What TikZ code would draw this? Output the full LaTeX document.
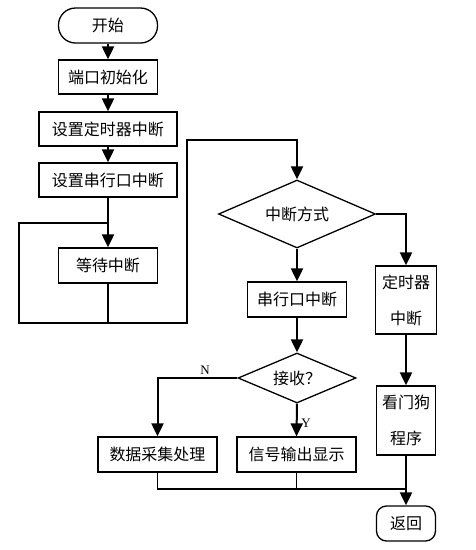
\documentclass[tikz,border=0pt]{standalone}
\usepackage{fontspec}
\setmainfont{Noto Sans CJK SC}
\newfontfamily\latinserif{Liberation Serif}
\usetikzlibrary{arrows.meta,shapes.geometric}
\begin{document}
\begin{tikzpicture}[x=1pt,y=-1pt,
  every node/.style={font=\fontsize{16}{18}\selectfont, inner sep=0pt},
  box/.style={draw, line width=1.3pt, minimum height=35pt},
  term/.style={box, rounded corners=17pt},
  rterm/.style={box, rounded corners=10pt},
  dia/.style={draw, line width=1.3pt, diamond, aspect=2.3},
  two/.style={box, align=center, font=\fontsize{16}{36}\selectfont},
  conn/.style={line width=2pt},
  arr/.style={conn, -{Triangle[width=12pt,length=13pt]}},
  lbl/.style={font=\latinserif\fontsize{13}{15}\selectfont}
]
\useasboundingbox (0,0) rectangle (475,550);

\node[term, minimum width=99pt] (start) at (108,25.5) {开始};
\node[box, minimum width=99pt, minimum height=34pt] (init) at (108,77) {端口初始化};
\node[box, minimum width=138pt, minimum height=34pt] (timer) at (108,129) {设置定时器中断};
\node[box, minimum width=138pt, minimum height=34pt] (serial) at (108,180) {设置串行口中断};
\node[box, minimum width=99pt] (wait) at (108,265.5) {等待中断};

\node[dia, minimum width=157pt, minimum height=68pt] (mode) at (297,214) {中断方式};
\node[box, minimum width=99pt] (serint) at (297,299.5) {串行口中断};
\node[two, minimum width=61pt, minimum height=68pt] (timint) at (406,300) {定时器\\中断};
\node[dia, minimum width=118pt, minimum height=50pt] (recv) at (297,378) {接收？};
\node[box, minimum width=119pt] (data) at (157.5,454.5) {数据采集处理};
\node[box, minimum width=119pt] (signal) at (296.5,454.5) {信号输出显示};
\node[two, minimum width=59pt, minimum height=69pt] (dog) at (406,420.5) {看门狗\\程序};
\node[rterm, minimum width=59pt] (ret) at (406,523.5) {\raisebox{-4pt}{返回}};

\coordinate (j1) at (108,223);
\coordinate (j2) at (108,323);
\coordinate (lpA) at (19,323);
\coordinate (ur) at (187,140);
\coordinate (mg) at (406,489);

\draw[arr] (start) -- (init);
\draw[arr] (init) -- (timer);
\draw[arr] (timer) -- (serial);
\draw[arr] (serial) -- (wait);
\draw[conn] (wait.south) -- (j2) -- (lpA) |- (j1);
\draw[arr] (j2) -| (ur) -| (mode.north);
\draw[arr] (mode.south) -- (serint.north);
\draw[arr] (mode.east) -| (timint.north);
\draw[arr] (serint.south) -- (recv.north);
\draw[arr] (recv.west) -| (data.north);
\draw[arr] (recv.south) -- (signal.north);
\draw[arr] (timint.south) -- (dog.north);
\draw[arr] (dog.south) -- (ret.north);
\draw[line width=1.2pt] (data.south) |- (mg);
\draw[line width=1.2pt] (signal.south) -- (signal.south |- mg);

\node[lbl] (nlab) at (205,370) {N};
\node[lbl] (ylab) at (306,423) {Y};
\end{tikzpicture}
\end{document}
